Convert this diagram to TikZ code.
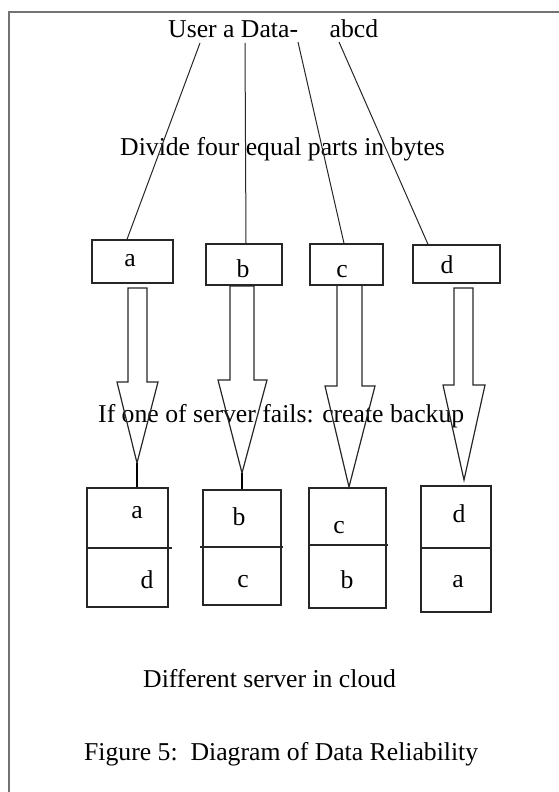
\documentclass[tikz,border=0pt]{standalone}
\usepackage{fontspec}
\setmainfont{Liberation Serif}
\begin{document}
\begin{tikzpicture}[x=1pt,y=-1pt,
  txt/.style={inner sep=0pt, font=\fontsize{25.7}{30}\selectfont},
  box/.style={draw=black!85, line width=1.3pt, inner sep=0pt},
  link/.style={draw=black!85, line width=1pt},
  blockarrow/.style={draw=black!85, line width=1.2pt, line join=miter},
  divider/.style={draw=black!85, line width=1.3pt},
  frameline/.style={draw=black!55, line width=2pt}]
\useasboundingbox (0,0) rectangle (559,792);
% frame (cropped)
\draw[frameline] (9,792) -- (9,12.5) -- (559,12.5);

% texts
\node[txt, anchor=base west] (title) at (168,37.6) {User a Data-\hspace{1.23em}abcd};
\node[txt, anchor=base west] (divide) at (120,155) {Divide four equal parts in bytes};
\node[txt, anchor=base west] (fails) at (98,422) {If one of server fails: create backup};
\node[txt, anchor=base west] (cloud) at (143,687) {Different server in cloud};
\node[txt, anchor=base west] (caption) at (84,760) {Figure 5:\ \ Diagram of Data Reliability};

% top boxes
\node[box, minimum width=81pt, minimum height=43pt] (ta) at (132.5,261.5) {};
\node[box, minimum width=76pt, minimum height=41pt] (tb) at (244,264.5) {};
\node[box, minimum width=73pt, minimum height=41pt] (tc) at (346.5,264.5) {};
\node[box, minimum width=87pt, minimum height=38pt] (td) at (456.5,264) {};
\node[txt, anchor=base] (la) at (130,266) {a};
\node[txt, anchor=base] (lb) at (243,277) {b};
\node[txt, anchor=base] (lc) at (342,277) {c};
\node[txt, anchor=base] (ld) at (447,273) {d};

% lines from user data
\coordinate (s1) at (200,43);
\coordinate (s2) at (245,43);
\coordinate (s3) at (298,42);
\coordinate (s4) at (339,42);
\draw[link] (s1) -- ([xshift=-5.5pt]ta.north);
\draw[link] (s2) -- ([xshift=2pt]tb.north);
\draw[link] (s3) -- ([xshift=-2.5pt]tc.north);
\draw[link] (s4) -- ([xshift=-28.5pt]td.north);

% bottom boxes
\node[box, minimum width=81pt, minimum height=119pt] (bA) at (127.5,547.5) {};
\node[box, minimum width=78pt, minimum height=115pt] (bB) at (242,547.5) {};
\node[box, minimum width=77pt, minimum height=120pt] (bC) at (347.5,548) {};
\node[box, minimum width=70pt, minimum height=126pt] (bD) at (456,549) {};
\draw[divider] (87,548) -- (172,548);
\draw[divider] (200,547) -- (283,547);
\draw[divider] (309,545) -- (388,545);
\draw[divider] (421,548) -- (491,548);
\node[txt, anchor=base] (Aa) at (137,518) {a};
\node[txt, anchor=base] (Ad) at (147,588) {d};
\node[txt, anchor=base] (Bb) at (239,525) {b};
\node[txt, anchor=base] (Bc) at (243,587) {c};
\node[txt, anchor=base] (Cc) at (339,533) {c};
\node[txt, anchor=base] (Cb) at (347,588) {b};
\node[txt, anchor=base] (Dd) at (459,522) {d};
\node[txt, anchor=base] (Da) at (458,587) {a};

% block arrows
\coordinate (tipA) at (137,463);
\coordinate (tipB) at (242,473);
\coordinate (tipC) at (349,487);
\coordinate (tipD) at (464,480);
\draw[blockarrow] (128,288) -- (128,382) -- (117,382) -- (tipA) -- (158,382) -- (147,382) -- (147,288) -- cycle;
\draw[blockarrow] (230,286) -- (230,380) -- (218,380) -- (tipB) -- (267,380) -- (254,380) -- (254,286) -- cycle;
\draw[blockarrow] (337,285) -- (337,386) -- (325,386) -- (tipC) -- (375,386) -- (362,386) -- (362,285) -- cycle;
\draw[blockarrow] (454,288) -- (454,385) -- (443,385) -- (tipD) -- (485,385) -- (473,385) -- (473,288) -- cycle;
\draw[draw=black, line width=2pt] (tipA) -- (tipA |- bA.north);
\draw[draw=black, line width=1.6pt] (tipB) -- (tipB |- bB.north);
\end{tikzpicture}
\end{document}
